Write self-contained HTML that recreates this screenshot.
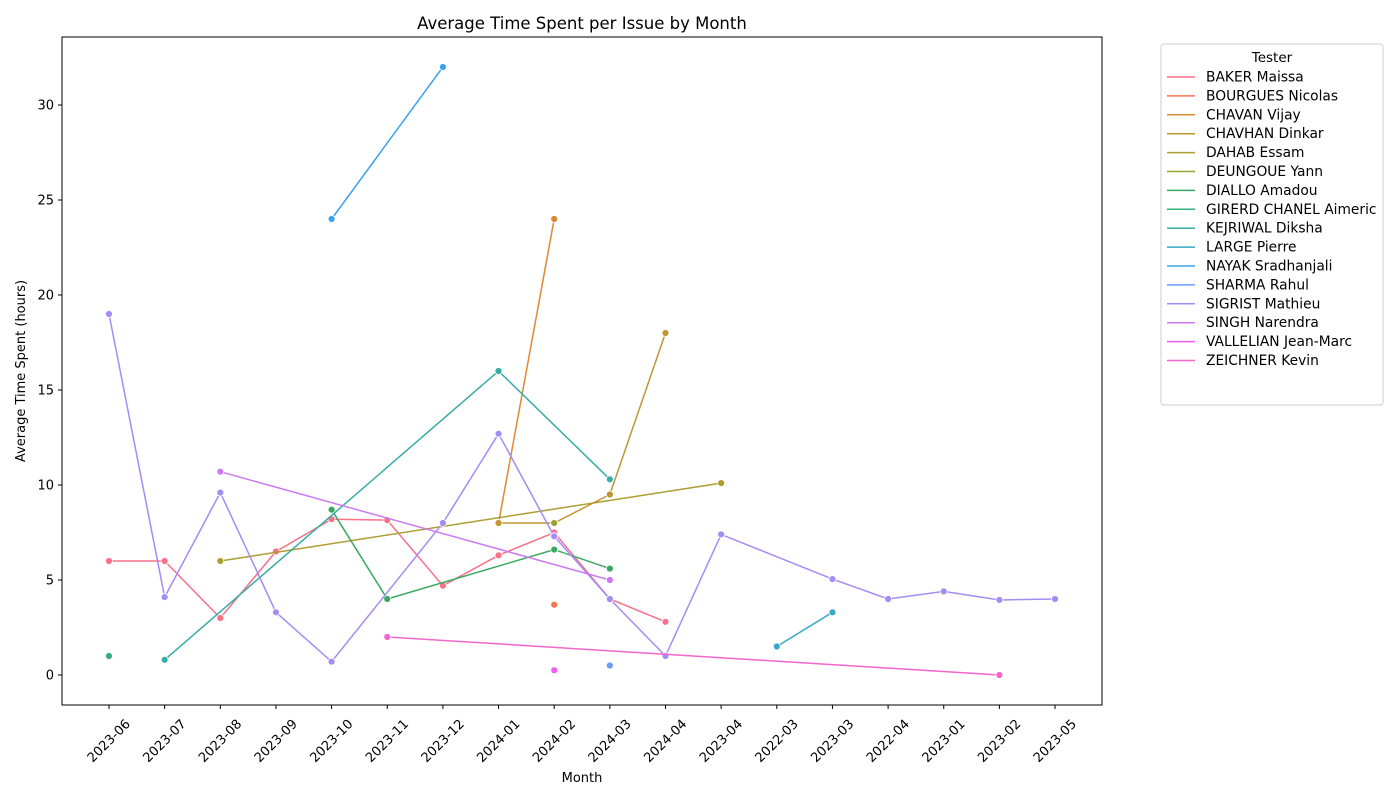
<!DOCTYPE html>
<html><head><meta charset="utf-8"><style>
body{margin:0;background:#fff;font-family:"DejaVu Sans","Liberation Sans",sans-serif;}
</style></head><body>
<svg id="chart" width="1400" height="800" xmlns="http://www.w3.org/2000/svg" font-family="DejaVu Sans, Liberation Sans, sans-serif"></svg>
<script>
const categories=["2023-06","2023-07","2023-08","2023-09","2023-10","2023-11","2023-12","2024-01","2024-02","2024-03","2024-04","2023-04","2022-03","2023-03","2022-04","2023-01","2023-02","2023-05"];
const yTicks=[0,5,10,15,20,25,30];
const testers=["BAKER Maissa","BOURGUES Nicolas","CHAVAN Vijay","CHAVHAN Dinkar","DAHAB Essam","DEUNGOUE Yann","DIALLO Amadou","GIRERD CHANEL Aimeric","KEJRIWAL Diksha","LARGE Pierre","NAYAK Sradhanjali","SHARMA Rahul","SIGRIST Mathieu","SINGH Narendra","VALLELIAN Jean-Marc","ZEICHNER Kevin"];
const colors=["#f77189","#f7754f","#dc8932","#c39532","#ae9d31","#97a431","#3aa860","#33b07a","#36ada4","#38a9c5","#3ba3ec","#6e9bf4","#a48cf4","#cc7af4","#f45cf2","#f565cc"];
const sBaker=[["2023-06",6],["2023-07",6],["2023-08",3],["2023-09",6.5],["2023-10",8.2],["2023-11",8.15],["2023-12",4.7],["2024-01",6.3],["2024-02",7.5],["2024-03",4],["2024-04",2.8]];
const sBourgues=[["2024-02",3.7]];
const sChavan=[["2024-01",8],["2024-02",24]];
const sChavhan=[["2024-01",8],["2024-02",8],["2024-03",9.5],["2024-04",18]];
const sDahab=[["2023-08",6],["2023-04",10.1]];
const sDeungoue=[["2024-02",8]];
const sDiallo=[["2023-10",8.7],["2023-11",4],["2024-02",6.6],["2024-03",5.6]];
const sGirerd=[["2023-06",1]];
const sKejriwal=[["2023-07",0.8],["2024-01",16],["2024-03",10.3]];
const sLarge=[["2022-03",1.5],["2023-03",3.3]];
const sNayak=[["2023-10",24],["2023-12",32]];
const sSharma=[["2024-03",0.5]];
const sSigrist=[["2023-06",19],["2023-07",4.1],["2023-08",9.6],["2023-09",3.3],["2023-10",0.7],["2023-12",8],["2024-01",12.7],["2024-02",7.3],["2024-03",4],["2024-04",1],["2023-04",7.4],["2023-03",5.05],["2022-04",4],["2023-01",4.4],["2023-02",3.95],["2023-05",4]];
const sSingh=[["2023-08",10.7],["2024-03",5]];
const sVallelian=[["2024-02",0.25]];
const sZeichner=[["2023-11",2],["2023-02",0]];
const series=[sBaker,sBourgues,sChavan,sChavhan,sDahab,sDeungoue,sDiallo,sGirerd,sKejriwal,sLarge,sNayak,sSharma,sSigrist,sSingh,sVallelian,sZeichner];

const NS="http://www.w3.org/2000/svg";
const svg=document.getElementById('chart');
const L=62,R=1102,T=37,B=705;
const x0=109,dx=55.65;
function xs(c){return x0+categories.indexOf(c)*dx;}
function ys(v){return 675-19*v;}
function mk(tag,attrs,parent){const e=document.createElementNS(NS,tag);for(const k in attrs)e.setAttribute(k,attrs[k]);(parent||svg).appendChild(e);return e;}

const frame=mk('rect',{x:L,y:T,width:R-L,height:B-T,fill:'none',stroke:'#000','stroke-width':1});



categories.forEach(c=>{
  const x=xs(c);
  mk('line',{x1:x,y1:B,x2:x,y2:B+4,stroke:'#000'});
  const t=mk('text',{x:x,y:745,'font-size':13,'text-anchor':'middle',transform:`rotate(-45 ${x} 741)`});
  t.textContent=c;
  
  
});
yTicks.forEach(v=>{
  const y=ys(v);
  mk('line',{x1:L-4,y1:y,x2:L,y2:y,stroke:'#000'});
  const t=mk('text',{x:L-8,y:y+4.5,'font-size':13,'text-anchor':'end'});
  t.textContent=v;
  
  
});
const title=mk('text',{x:(L+R)/2,y:29,'font-size':16.5,'text-anchor':'middle'});
title.textContent='Average Time Spent per Issue by Month';


const xt=mk('text',{x:(L+R)/2,y:782,'font-size':13,'text-anchor':'middle'});
xt.textContent='Month';


const yt=mk('text',{x:25,y:(T+B)/2,'font-size':13,'text-anchor':'middle',transform:`rotate(-90 25 ${(T+B)/2})`});
yt.textContent='Average Time Spent (hours)';



series.forEach((s,i)=>{
  const g=mk('g',{});
  
  
  if(s.length>1){
    const pl=mk('polyline',{points:s.map(p=>xs(p[0])+','+ys(p[1])).join(' '),fill:'none',stroke:colors[i],'stroke-width':1.5},g);
    
    
  }
  s.forEach(p=>{
    const c=mk('circle',{cx:xs(p[0]),cy:ys(p[1]),r:3.5,fill:colors[i],stroke:'#fff','stroke-width':0.8},g);
    
    
  });
});

const lg=mk('g',{});


mk('rect',{x:1161,y:44,width:222,height:361,rx:3,fill:'#fff',stroke:'#ccc'},lg);
const lt=mk('text',{x:1272,y:62,'font-size':13.5,'text-anchor':'middle'},lg);
lt.textContent='Tester';
testers.forEach((n,i)=>{
  const y=77+i*18.9;
  const e=mk('g',{},lg);
  
  
  mk('line',{x1:1167,y1:y,x2:1195,y2:y,stroke:colors[i],'stroke-width':1.5},e);
  const t=mk('text',{x:1206,y:y+4.5,'font-size':13.8},e);
  t.textContent=n;
});
</script>
</body></html>
